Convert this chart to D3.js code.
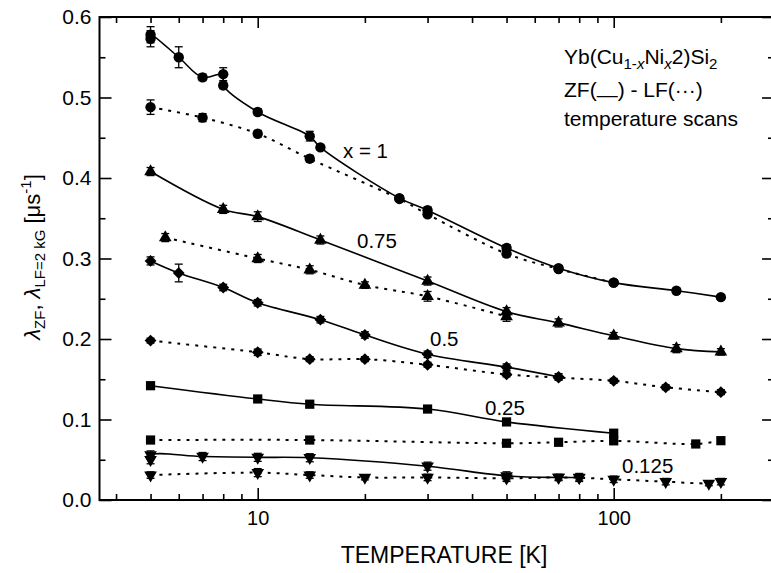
<!DOCTYPE html>
<html><head><meta charset="utf-8">
<script src="https://cdn.jsdelivr.net/npm/d3@7"></script>
<style>
html,body{margin:0;padding:0;background:#fff;}
text{font-family:"Liberation Sans",Arial,Helvetica,sans-serif;fill:#000;}
</style></head>
<body><svg id="c" width="771" height="573"></svg>
<script>
// ---------- data ----------
const tZF1 = [5,5,6,7,8,8,10,14,15,25,30,50,70,100,150,200];
const vZF1 = [0.573,0.578,0.550,0.525,0.529,0.515,0.482,0.452,0.438,0.375,0.360,0.313,0.288,0.270,0.260,0.252];
const eZF1 = [0.010,0.010,0.013,0.004,0.008,0.004,0.004,0.006,0.003,0.003,0.004,0.004,0.003,0.003,0.003,0.003];
const tLF1 = [5,7,10,14,25,30,50,70,100];
const vLF1 = [0.488,0.475,0.455,0.424,0.374,0.355,0.306,0.287,0.270];
const eLF1 = [0.009,0.005,0.004,0.004,0.003,0.003,0.004,0.003,0.003];

const tZF075 = [5,8,10,15,30,50,70,100,150,200];
const vZF075 = [0.408,0.361,0.352,0.323,0.272,0.234,0.220,0.204,0.188,0.184];
const eZF075 = [0.005,0.005,0.006,0.005,0.005,0.005,0.005,0.004,0.005,0.004];
const tLF075 = [5.5,10,14,20,30,50];
const vLF075 = [0.326,0.300,0.286,0.267,0.253,0.228];
const eLF075 = [0.005,0.005,0.005,0.004,0.006,0.006];

const tZF05 = [5,6,8,10,15,20,30,50,70];
const vZF05 = [0.297,0.282,0.264,0.245,0.224,0.205,0.181,0.165,0.153];
const eZF05 = [0.005,0.011,0.004,0.004,0.004,0.004,0.004,0.004,0.004];
const tLF05 = [5,10,14,20,30,50,70,100,140,200];
const vLF05 = [0.198,0.1835,0.175,0.175,0.168,0.156,0.152,0.148,0.140,0.134];
const eLF05 = [0.003,0.004,0.003,0.003,0.003,0.003,0.003,0.003,0.003,0.003];

const tZF025 = [5,10,14,30,50,100];
const vZF025 = [0.142,0.1255,0.119,0.113,0.097,0.083];
const eZF025 = [0.003,0.003,0.003,0.003,0.003,0.004];
const tLF025 = [5,14,50,70,100,170,200];
const vLF025 = [0.0745,0.0745,0.0705,0.0717,0.0735,0.0696,0.0737];
const eLF025 = [0.003,0.003,0.003,0.003,0.003,0.003,0.003];

const tZF0125 = [5,5,7,10,14,30,50,70,80];
const vZF0125 = [0.050,0.056,0.054,0.053,0.0525,0.042,0.030,0.028,0.028];
const eZF0125 = [0.005,0.005,0.005,0.005,0.005,0.005,0.005,0.004,0.005];
const tLF0125 = [5,10,14,20,30,50,70,80,100,140,185,200];
const vLF0125 = [0.031,0.034,0.031,0.028,0.028,0.027,0.028,0.0277,0.0257,0.0228,0.0207,0.0228];
const eLF0125 = [0.004,0.005,0.004,0.003,0.004,0.004,0.003,0.003,0.004,0.004,0.003,0.004];

const yMajor = [0,0.1,0.2,0.3,0.4,0.5,0.6];
const yMinor = [0.05,0.15,0.25,0.35,0.45,0.55];
const xMajor = [10,100];
const xMinor = [4,5,6,7,8,9,20,30,40,50,60,70,80,90,200];

const xLabel = "TEMPERATURE [K]";
const labels = ["x = 1","0.75","0.5","0.25","0.125"];

// ---------- build ----------
const series = [
  {t:tZF1,v:vZF1,e:eZF1,sym:"circle",dash:false},
  {t:tLF1,v:vLF1,e:eLF1,sym:"circle",dash:true},
  {t:tZF075,v:vZF075,e:eZF075,sym:"up",dash:false},
  {t:tLF075,v:vLF075,e:eLF075,sym:"up",dash:true},
  {t:tZF05,v:vZF05,e:eZF05,sym:"diamond",dash:false},
  {t:tLF05,v:vLF05,e:eLF05,sym:"diamond",dash:true},
  {t:tZF025,v:vZF025,e:eZF025,sym:"square",dash:false},
  {t:tLF025,v:vLF025,e:eLF025,sym:"square",dash:true},
  {t:tZF0125,v:vZF0125,e:eZF0125,sym:"down",dash:false},
  {t:tLF0125,v:vLF0125,e:eLF0125,sym:"down",dash:true}
];

const L=99.5, R=774, T=17, B=500;
const x = d3.scaleLog().domain([3.594, 282]).range([L,R]);
const y = d3.scaleLinear().domain([0,0.6]).range([B,T]);
const svg = d3.select("#c");

const line = d3.line().x(d=>x(d[0])).y(d=>y(d[1])).curve(d3.curveCatmullRom.alpha(0.5));

const symGen = {
  circle: d3.symbol().type(d3.symbolCircle).size(85),
  up: d3.symbol().type(d3.symbolTriangle).size(70),
  down: d3.symbol().type(d3.symbolTriangle).size(70),
  square: d3.symbol().type(d3.symbolSquare).size(85),
  diamond: d3.symbol().type(d3.symbolSquare).size(70)
};
const symRot = {circle:0, up:0, down:180, square:0, diamond:45};

const g = svg.append("g");
series.forEach(s=>{
  const pts = s.t.map((t,i)=>[t,s.v[i],s.e[i]]);
  g.append("path").datum(pts).attr("d",line)
    .attr("fill","none").attr("stroke","#000")
    .attr("stroke-width", s.dash?2:1.6)
    .attr("stroke-dasharray", s.dash?"3,6":null);
  const eb = g.append("g");
  pts.forEach(p=>{
    const cx=x(p[0]), y1=y(p[1]-p[2]), y2=y(p[1]+p[2]);
    eb.append("line").attr("x1",cx).attr("x2",cx).attr("y1",y1).attr("y2",y2).attr("stroke","#000").attr("stroke-width",1.3);
    [y1,y2].forEach(yy=>eb.append("line").attr("x1",cx-4).attr("x2",cx+4).attr("y1",yy).attr("y2",yy).attr("stroke","#000").attr("stroke-width",1.3));
  });
  g.append("g").selectAll("path").data(pts).join("path")
    .attr("d",symGen[s.sym])
    .attr("transform",d=>`translate(${x(d[0])},${y(d[1])}) rotate(${symRot[s.sym]})`)
    .attr("fill","#000");
});

// frame
svg.append("rect").attr("x",L).attr("y",T).attr("width",R-L).attr("height",B-T)
  .attr("fill","none").attr("stroke","#000").attr("stroke-width",2);

function styleAxis(sel){ sel.select(".domain").remove(); sel.selectAll("line").attr("stroke","#000").attr("stroke-width",1.6); }
const fmtY = d3.format(".1f");
// left
svg.append("g").attr("transform",`translate(${L},0)`)
  .call(d3.axisLeft(y).tickValues(yMajor).tickSize(-12).tickPadding(8).tickFormat(fmtY))
  .call(styleAxis).call(s=>s.selectAll("text").attr("font-size",21).style("font-family",'"Liberation Sans",Arial,sans-serif'));
svg.append("g").attr("transform",`translate(${L},0)`)
  .call(d3.axisLeft(y).tickValues(yMinor).tickSize(-6).tickFormat("")).call(styleAxis);
// right
svg.append("g").attr("transform",`translate(${R},0)`)
  .call(d3.axisRight(y).tickValues(yMajor).tickSize(-12).tickFormat("")).call(styleAxis);
svg.append("g").attr("transform",`translate(${R},0)`)
  .call(d3.axisRight(y).tickValues(yMinor).tickSize(-6).tickFormat("")).call(styleAxis);
// bottom
svg.append("g").attr("transform",`translate(0,${B})`)
  .call(d3.axisBottom(x).tickValues(xMajor).tickSize(-12).tickPadding(11).tickFormat(d3.format("d")))
  .call(styleAxis).call(s=>s.selectAll("text").attr("font-size",20).style("font-family",'"Liberation Sans",Arial,sans-serif'));
svg.append("g").attr("transform",`translate(0,${B})`)
  .call(d3.axisBottom(x).tickValues(xMinor).tickSize(-6).tickFormat("")).call(styleAxis);
// top
svg.append("g").attr("transform",`translate(0,${T})`)
  .call(d3.axisTop(x).tickValues(xMajor).tickSize(-11).tickFormat("")).call(styleAxis);
svg.append("g").attr("transform",`translate(0,${T})`)
  .call(d3.axisTop(x).tickValues(xMinor).tickSize(-6).tickFormat("")).call(styleAxis);

// x title
svg.append("text").attr("x",444).attr("y",563).attr("text-anchor","middle")
  .attr("font-size",23).text(xLabel);

// y title
const yt = svg.append("text").attr("transform","translate(40,257) rotate(-90)")
  .attr("text-anchor","middle").attr("font-size",22);
yt.append("tspan").attr("font-style","italic").text("λ");
yt.append("tspan").attr("font-size",15).attr("dy",5).text("ZF");
yt.append("tspan").attr("dy",-5).text(", ");
yt.append("tspan").attr("font-style","italic").text("λ");
yt.append("tspan").attr("font-size",15).attr("dy",5).text("LF=2 kG");
yt.append("tspan").attr("dy",-5).text(" [μs");
yt.append("tspan").attr("font-size",15).attr("dy",-9).text("-1");
yt.append("tspan").attr("dy",9).text("]");

// legend text
const fs=21;
const l1 = svg.append("text").attr("x",564).attr("y",64).attr("font-size",fs);
l1.append("tspan").text("Yb(Cu");
l1.append("tspan").attr("font-size",15).attr("dy",5).text("1-");
l1.append("tspan").attr("font-size",15).attr("font-style","italic").text("x");
l1.append("tspan").attr("dy",-5).text("Ni");
l1.append("tspan").attr("font-size",15).attr("font-style","italic").attr("dy",5).text("x");
l1.append("tspan").attr("dy",-5).text("2)Si");
l1.append("tspan").attr("font-size",15).attr("dy",5).text("2");
const l2 = svg.append("text").attr("x",564).attr("y",97).attr("font-size",fs);
l2.append("tspan").text("ZF(");
l2.append("tspan").attr("dy",5).text("—");
l2.append("tspan").attr("dy",-5).text(") - LF(");
l2.append("tspan").text("···");
l2.append("tspan").text(")");
svg.append("text").attr("x",564).attr("y",126).attr("font-size",fs).text("temperature scans");

// curve labels
const lpos = [[343,158],[357,248],[430,346],[485,415],[622,473]];
labels.forEach((s,i)=>svg.append("text").attr("x",lpos[i][0]).attr("y",lpos[i][1]).attr("font-size",20.5).text(s));
</script></body></html>
